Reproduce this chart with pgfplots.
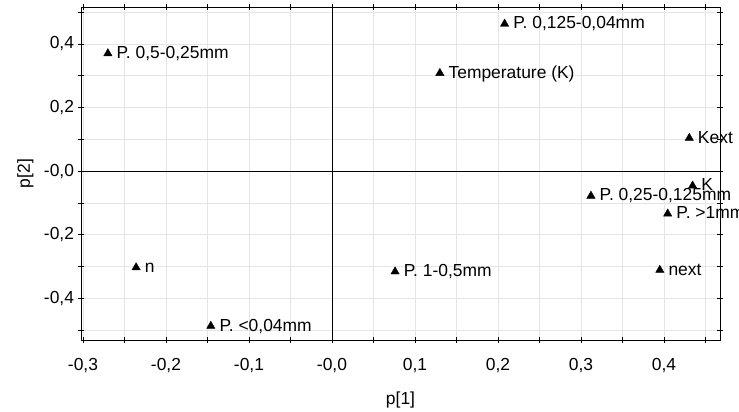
\documentclass[border=0pt]{standalone}
\usepackage{fontspec}
\setmainfont{Liberation Sans}
\usepackage{pgfplots}
\pgfplotsset{compat=1.18}
\begin{document}
\fontsize{17.5}{20}\selectfont
\begin{tikzpicture}
\begin{axis}[
  scale only axis,
  width=639bp, height=333bp,
  xmin=-0.3024, xmax=0.4675,
  ymin=-0.531, ymax=0.516,
  clip=false,
  axis line style={black, line width=0.8pt},
  xtick={-0.3,-0.2,-0.1,0,0.1,0.2,0.3,0.4},
  xticklabels={-0{,}3,-0{,}2,-0{,}1,-0{,}0,0{,}1,0{,}2,0{,}3,0{,}4},
  minor xtick={-0.25,-0.15,-0.05,0.05,0.15,0.25,0.35,0.45},
  ytick={-0.4,-0.2,0,0.2,0.4},
  yticklabels={-0{,}4,-0{,}2,-0{,}0,0{,}2,0{,}4},
  minor ytick={-0.5,-0.3,-0.1,0.1,0.3,0.5},
  grid=both,
  major grid style={gray!20, line width=0.6pt},
  minor grid style={gray!20, line width=0.6pt},
  tick align=center,
  major tick length=6bp, minor tick length=6bp,
  tick style={black, line width=0.6pt},
  every tick label/.append style={font=\fontsize{17.5}{20}\selectfont},
  /pgf/number format/assume math mode=true,
  xticklabel style={yshift=-9bp},
  yticklabel style={xshift=2bp},
  xlabel={p[1]}, ylabel={p[2]},
  xlabel style={at={(axis description cs:0.5,-0.18)}, anchor=center},
  ylabel style={at={(axis description cs:-0.087,0.5)}, anchor=center},
  label style={font=\fontsize{17.5}{20}\selectfont},
  nodes near coords,
  point meta=explicit symbolic,
  every node near coord/.append style={anchor=base west, inner sep=0pt, xshift=8.5bp, yshift=-5bp, font=\fontsize{17.5}{20}\selectfont, black},
]
\draw[black, line width=0.6pt] (axis cs:0,-0.531) -- (axis cs:0,0.516);
\draw[black, line width=0.6pt] (axis cs:-0.3024,0) -- (axis cs:0.4675,0);
\addplot[only marks, mark=triangle*, mark size=4.8bp, black] table[meta=label, col sep=semicolon] {
x;y;label
-0.270;0.370;P. 0,5-0,25mm
0.208;0.463;P. 0,125-0,04mm
0.130;0.308;Temperature (K)
0.4305;0.104;Kext
0.4345;-0.046;K
0.312;-0.078;P. 0,25-0,125mm
0.4045;-0.134;P. >1mm
0.395;-0.311;next
0.076;-0.316;P. 1-0,5mm
-0.236;-0.303;n
-0.146;-0.487;P. <0,04mm
};
\end{axis}
\pgfresetboundingbox
\path (current axis.south west) ++(-81bp,-72bp) rectangle ++(739bp,412bp);
\end{tikzpicture}
\end{document}
